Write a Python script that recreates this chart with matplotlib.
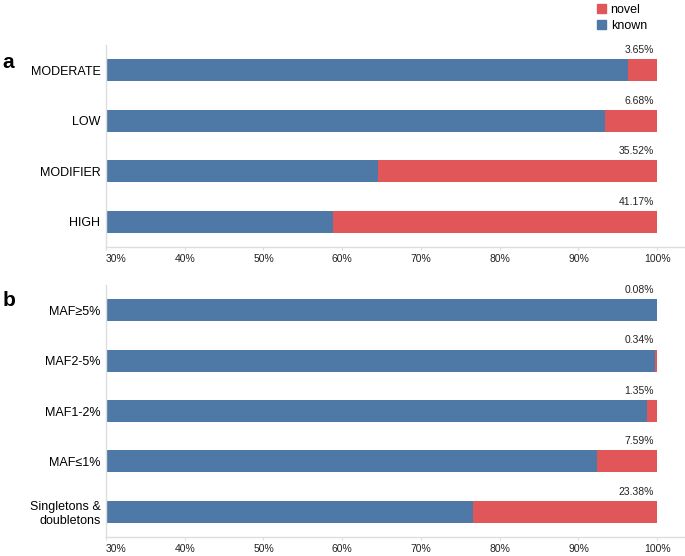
import matplotlib
matplotlib.use("Agg")
import matplotlib.pyplot as plt
from matplotlib.patches import Patch

plt.rcParams['font.family'] = ['Liberation Sans', 'DejaVu Sans']

cats_a = ["MODERATE", "LOW", "MODIFIER", "HIGH"]
novel_a = [3.65, 6.68, 35.52, 41.17]
cats_b = ["MAF≥5%", "MAF2-5%", "MAF1-2%", "MAF≤1%", "Singletons &\ndoubletons"]
novel_b = [0.08, 0.34, 1.35, 7.59, 23.38]
ticks = [30, 40, 50, 60, 70, 80, 90, 100]
tick_labels = [f"{t}%" for t in ticks]

BLUE = "#4e79a7"
RED = "#e15759"
GRAY = "#dddddd"

fig = plt.figure(figsize=(6.85, 5.56), dpi=100)
ax_a = fig.add_axes([106/685, 1-247/556, 578/685, 202/556])
ax_b = fig.add_axes([106/685, 1-537/556, 578/685, 252/556])

def draw(ax, cats, novel):
    n = len(cats)
    ys = list(range(n))
    known = [100 - v for v in novel]
    ax.barh(ys, known, height=0.44, color=BLUE, left=0)
    ax.barh(ys, novel, height=0.44, color=RED, left=known)
    for y, v in zip(ys, novel):
        ax.text(99.6, y - 0.3, f"{v:.2f}%", ha="right", va="bottom", fontsize=7.5, color="#222222")
    ax.set_xlim(30, 103.4)
    ax.set_ylim(n - 0.5, -0.5)
    ax.set_yticks(ys)
    ax.set_yticklabels(cats, fontsize=9)
    ax.set_xticks(ticks)
    ax.set_xticklabels(tick_labels, fontsize=7.5, color="#222222")
    ax.get_xticklabels()[0].set_horizontalalignment("left")
    for s in ["top", "right"]:
        ax.spines[s].set_visible(False)
    for s in ["left", "bottom"]:
        ax.spines[s].set_color(GRAY)
        ax.spines[s].set_linewidth(1.0)
    ax.tick_params(axis="y", length=0, pad=4)
    ax.tick_params(axis="x", length=2.2, color=GRAY, pad=3.2)

draw(ax_a, cats_a, novel_a)
draw(ax_b, cats_b, novel_b)

fig.text(2/685, 1-62/556, "a", fontsize=15, fontweight="bold", va="center", ha="left")
fig.text(3/685, 1-300/556, "b", fontsize=15, fontweight="bold", va="center", ha="left")

handles = [Patch(color=RED, label="novel"), Patch(color=BLUE, label="known")]
fig.legend(handles=handles, loc="upper left", bbox_to_anchor=(596/685, 1-3/556), frameon=False,
           fontsize=9, handlelength=0.72, handleheight=0.72, handletextpad=0.35,
           labelspacing=0.3, borderaxespad=0, borderpad=0.1)

fig.savefig("out.png", dpi=100)
